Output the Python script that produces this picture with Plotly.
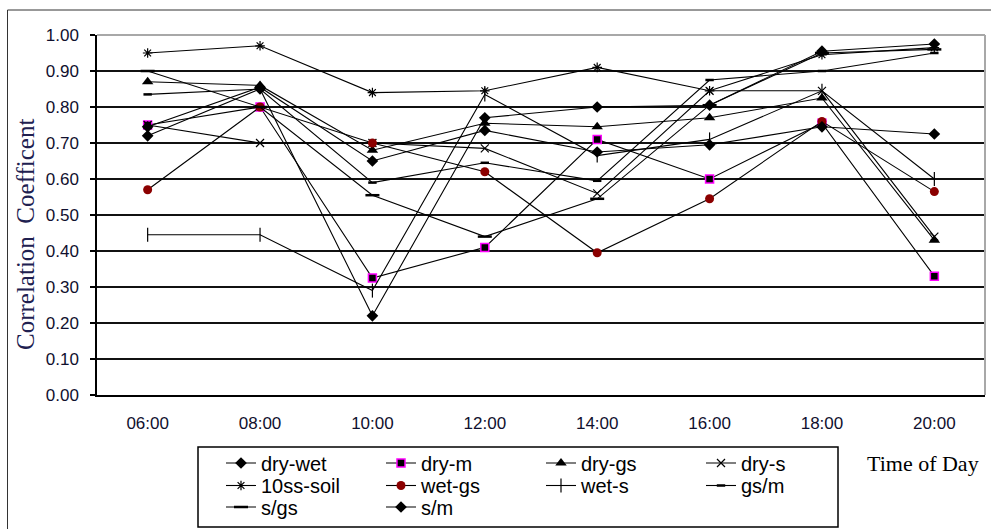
import plotly.graph_objects as go

times = ["06:00", "08:00", "10:00", "12:00", "14:00", "16:00", "18:00", "20:00"]
y_tick_vals = [0.0, 0.1, 0.2, 0.3, 0.4, 0.5, 0.6, 0.7, 0.8, 0.9, 1.0]

dry_wet = [0.72, 0.85, 0.22, 0.77, 0.80, 0.805, 0.955, 0.975]
dry_m = [0.75, 0.80, 0.325, 0.41, 0.71, 0.60, 0.755, 0.33]
dry_gs = [0.87, 0.86, 0.68, 0.755, 0.745, 0.77, 0.825, 0.43]
dry_s = [0.75, 0.70, 0.70, 0.685, 0.56, 0.845, 0.845, 0.44]
ss10_soil = [0.95, 0.97, 0.84, 0.845, 0.91, 0.845, 0.945, 0.965]
wet_gs = [0.57, 0.80, 0.70, 0.62, 0.395, 0.545, 0.76, 0.565]
wet_s = [0.445, 0.445, 0.29, 0.835, 0.665, 0.71, 0.845, 0.60]
gs_m = [0.835, 0.85, 0.59, 0.645, 0.595, 0.875, 0.90, 0.95]
s_gs = [0.90, 0.80, 0.555, 0.44, 0.545, 0.805, 0.95, 0.96]
s_m = [0.745, 0.855, 0.65, 0.735, 0.675, 0.695, 0.745, 0.725]

W, H = 991, 529
# plot area in page pixels
SX0, SX1, SY0, SY1 = 97, 985, 35, 395
L, R, T, B = SX0, W - SX1, SY0, H - SY1


def px(x):
    return (x - SX0) / (SX1 - SX0)


def py(y):
    return (SY1 - y) / (SY1 - SY0)


series = [
    ("dry-wet", dry_wet, dict(symbol="diamond", size=9, color="black"), "legend"),
    ("dry-m", dry_m, dict(symbol="square", size=8, color="black",
                          line=dict(color="#ff00ff", width=1.5)), "legend"),
    ("dry-gs", dry_gs, dict(symbol="triangle-up", size=10, color="black"), "legend"),
    ("dry-s", dry_s, dict(symbol="x-thin-open", size=8, color="black",
                          line=dict(color="black", width=1.2)), "legend"),
    ("10ss-soil", ss10_soil, dict(symbol="asterisk-open", size=8, color="black",
                                  line=dict(color="black", width=1.2)), "legend2"),
    ("wet-gs", wet_gs, dict(symbol="circle", size=9, color="#8b0000"), "legend2"),
    ("wet-s", wet_s, dict(symbol="line-ns-open", size=10, color="black",
                          line=dict(color="black", width=1.2)), "legend2"),
    ("gs/m", gs_m, dict(symbol="line-ew-open", size=6, color="black",
                        line=dict(color="black", width=2.5)), "legend2"),
    ("s/gs", s_gs, dict(symbol="line-ew-open", size=10, color="black",
                        line=dict(color="black", width=2.5)), "legend3"),
    ("s/m", s_m, dict(symbol="diamond", size=9, color="black"), "legend3"),
]

fig = go.Figure()
for name, vals, marker, leg in series:
    fig.add_trace(go.Scatter(
        x=times, y=vals, name=name, mode="lines+markers",
        line=dict(color="black", width=1.1),
        marker=marker, legend=leg,
    ))

tick_font = dict(family="Liberation Sans, Arial", size=17, color="#10102e")
leg_font = dict(family="Liberation Sans, Arial", size=20, color="black")

legend_common = dict(
    orientation="h", xanchor="left", yanchor="middle",
    bgcolor="rgba(0,0,0,0)", borderwidth=0, font=leg_font,
    itemwidth=30, entrywidth=115, entrywidthmode="pixels",
    x=px(221),
)
fig.update_layout(
    width=W, height=H,
    margin=dict(l=L, r=R, t=T, b=B, autoexpand=False),
    paper_bgcolor="white", plot_bgcolor="white",
    showlegend=True,
    legend=dict(y=py(463), **legend_common),
    legend2=dict(y=py(485.5), **legend_common),
    legend3=dict(y=py(507), **legend_common),
    xaxis=dict(
        type="category", showgrid=False, zeroline=False,
        showline=True, linecolor="black", linewidth=2,
        ticks="", tickfont=tick_font, ticklabelstandoff=12,
    ),
    yaxis=dict(
        range=[0, 1], tickvals=y_tick_vals, tickformat=".2f",
        showgrid=True, gridcolor="#111111", gridwidth=2,
        zeroline=False, showline=True, linecolor="black", linewidth=1.5,
        ticks="outside", ticklen=5, tickcolor="black", tickwidth=1.5,
        tickfont=tick_font, ticklabelstandoff=8,
    ),
    shapes=[
        # plot area top & right borders (grey)
        dict(type="line", xref="paper", yref="paper", x0=0, x1=1, y0=1, y1=1,
             line=dict(color="#a8a8a8", width=2), layer="above"),
        dict(type="line", xref="paper", yref="paper", x0=1, x1=1, y0=0, y1=1,
             line=dict(color="#a8a8a8", width=2), layer="above"),
        # legend box
        dict(type="rect", xref="paper", yref="paper",
             x0=px(198), x1=px(838), y0=py(527), y1=py(447),
             line=dict(color="black", width=1.5), fillcolor="rgba(0,0,0,0)"),
        # outer chart frame
        dict(type="rect", xref="paper", yref="paper",
             x0=px(7.5), x1=px(1010), y0=py(545), y1=py(10),
             line=dict(color="#333333", width=1), fillcolor="rgba(0,0,0,0)"),
    ],
    annotations=[
        dict(text="Correlation  Coefficent", xref="paper", yref="paper",
             x=px(25), y=py(235), xanchor="center", yanchor="middle",
             textangle=-90, showarrow=False,
             font=dict(family="Liberation Serif, Times New Roman", size=25,
                       color="#202050")),
        dict(text="Time of Day", xref="paper", yref="paper",
             x=px(865), y=py(463), xanchor="left", yanchor="middle",
             showarrow=False,
             font=dict(family="Liberation Serif, Times New Roman", size=22, color="black")),
    ],
)

fig.write_html(
    "out.html",
    config={"displayModeBar": False},
    post_script="document.body.style.margin='0';document.body.style.overflow='hidden';",
)
